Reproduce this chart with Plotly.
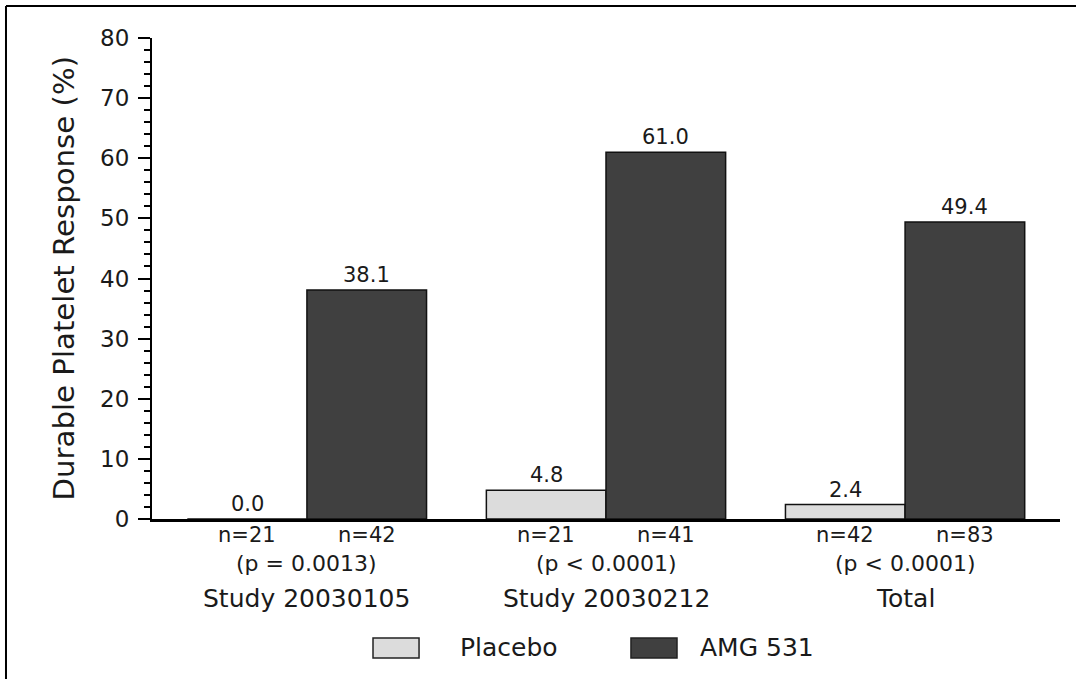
import plotly.graph_objects as go

# Data
studies = ["Study 20030105", "Study 20030212", "Total"]
p_labels = ["(p = 0.0013)", "(p < 0.0001)", "(p < 0.0001)"]
placebo_pct = [0.0, 4.8, 2.4]
amg_pct = [38.1, 61.0, 49.4]
placebo_n = [21, 21, 42]
amg_n = [42, 41, 83]
y_ticks = [0, 10, 20, 30, 40, 50, 60, 70, 80]

PLACEBO_COLOR = "#dcdcdc"
AMG_COLOR = "#404040"
TEXT_COLOR = "#1a1a1a"
FONT = "DejaVu Sans, Liberation Sans, Arial, sans-serif"

OFFSET = 0.2
WIDTH = 0.4
group_x = list(range(len(studies)))
placebo_x = [g - OFFSET for g in group_x]
amg_x = [g + OFFSET for g in group_x]

fig = go.Figure()
fig.add_trace(go.Bar(
    x=placebo_x, y=placebo_pct, width=WIDTH, name="Placebo",
    marker=dict(color=PLACEBO_COLOR, line=dict(color="#111111", width=1.5)),
    showlegend=False,
))
fig.add_trace(go.Bar(
    x=amg_x, y=amg_pct, width=WIDTH, name="AMG 531",
    marker=dict(color=AMG_COLOR, line=dict(color="#111111", width=1.5)),
    showlegend=False,
))

annotations = []
# value labels above bars
for xs, vals in ((placebo_x, placebo_pct), (amg_x, amg_pct)):
    for x, v in zip(xs, vals):
        annotations.append(dict(
            x=x, y=v, xref="x", yref="y", text=f"{v:.1f}", showarrow=False,
            yanchor="bottom", yshift=1,
            font=dict(size=21, color=TEXT_COLOR, family=FONT),
        ))
# sample sizes under each bar
for xs, ns in ((placebo_x, placebo_n), (amg_x, amg_n)):
    for x, n in zip(xs, ns):
        annotations.append(dict(
            x=x, y=0, xref="x", yref="paper", text=f"n={n}", showarrow=False,
            yanchor="middle", yshift=-16,
            font=dict(size=21, color=TEXT_COLOR, family=FONT),
        ))
# p-values and study names under each group
for g, p, s in zip(group_x, p_labels, studies):
    annotations.append(dict(
        x=g, y=0, xref="x", yref="paper", text=p, showarrow=False,
        yanchor="middle", yshift=-44,
        font=dict(size=22, color=TEXT_COLOR, family=FONT),
    ))
    annotations.append(dict(
        x=g, y=0, xref="x", yref="paper", text=s, showarrow=False,
        yanchor="middle", yshift=-79,
        font=dict(size=25, color=TEXT_COLOR, family=FONT),
    ))

# y-axis title
annotations.append(dict(
    x=-0.097, y=0.5, xref="paper", yref="paper",
    text="Durable Platelet Response (%)", textangle=-90, showarrow=False,
    xanchor="center", yanchor="middle",
    font=dict(size=29.2, color=TEXT_COLOR, family=FONT),
))

# legend text
annotations.append(dict(
    x=0.337, y=-0.268, xref="paper", yref="paper", text="Placebo",
    showarrow=False, xanchor="left", yanchor="middle",
    font=dict(size=25, color=TEXT_COLOR, family=FONT),
))
annotations.append(dict(
    x=0.6013, y=-0.268, xref="paper", yref="paper", text="AMG 531",
    showarrow=False, xanchor="left", yanchor="middle",
    font=dict(size=25, color=TEXT_COLOR, family=FONT),
))

shapes = [
    # legend swatches
    dict(type="rect", xref="paper", yref="paper", x0=0.2434, x1=0.2941,
         y0=-0.289, y1=-0.2474, fillcolor=PLACEBO_COLOR,
         line=dict(color="#222222", width=1.5)),
    dict(type="rect", xref="paper", yref="paper", x0=0.5275, x1=0.5782,
         y0=-0.289, y1=-0.2474, fillcolor=AMG_COLOR,
         line=dict(color="#222222", width=1.5)),
    # outer frame (left and top edges)
    dict(type="line", xref="paper", yref="paper", x0=-0.1608, x1=-0.1608,
         y0=1.0665, y1=-0.45, line=dict(color="black", width=2)),
    dict(type="line", xref="paper", yref="paper", x0=-0.1608, x1=1.03,
         y0=1.0665, y1=1.0665, line=dict(color="black", width=2)),
]

fig.update_layout(
    width=1076, height=679,
    margin=dict(l=152, r=16, t=38, b=160),
    paper_bgcolor="white", plot_bgcolor="white",
    barmode="overlay",
    font=dict(family=FONT, color=TEXT_COLOR),
    annotations=annotations,
    shapes=shapes,
    xaxis=dict(
        range=[-0.518, 2.518], showgrid=False, zeroline=False,
        showline=True, linecolor="black", linewidth=2.5,
        showticklabels=False, ticks="",
    ),
    yaxis=dict(
        range=[0, 80], tickvals=y_ticks, showgrid=False, zeroline=False,
        showline=True, linecolor="black", linewidth=2,
        ticks="outside", ticklen=12, tickwidth=2, tickcolor="black",
        ticklabelstandoff=4,
        tickfont=dict(size=23, color=TEXT_COLOR, family=FONT),
        minor=dict(ticks="outside", ticklen=6, tickwidth=1.5,
                   tickcolor="black", dtick=2),
    ),
)

fig.write_html("out.html")
